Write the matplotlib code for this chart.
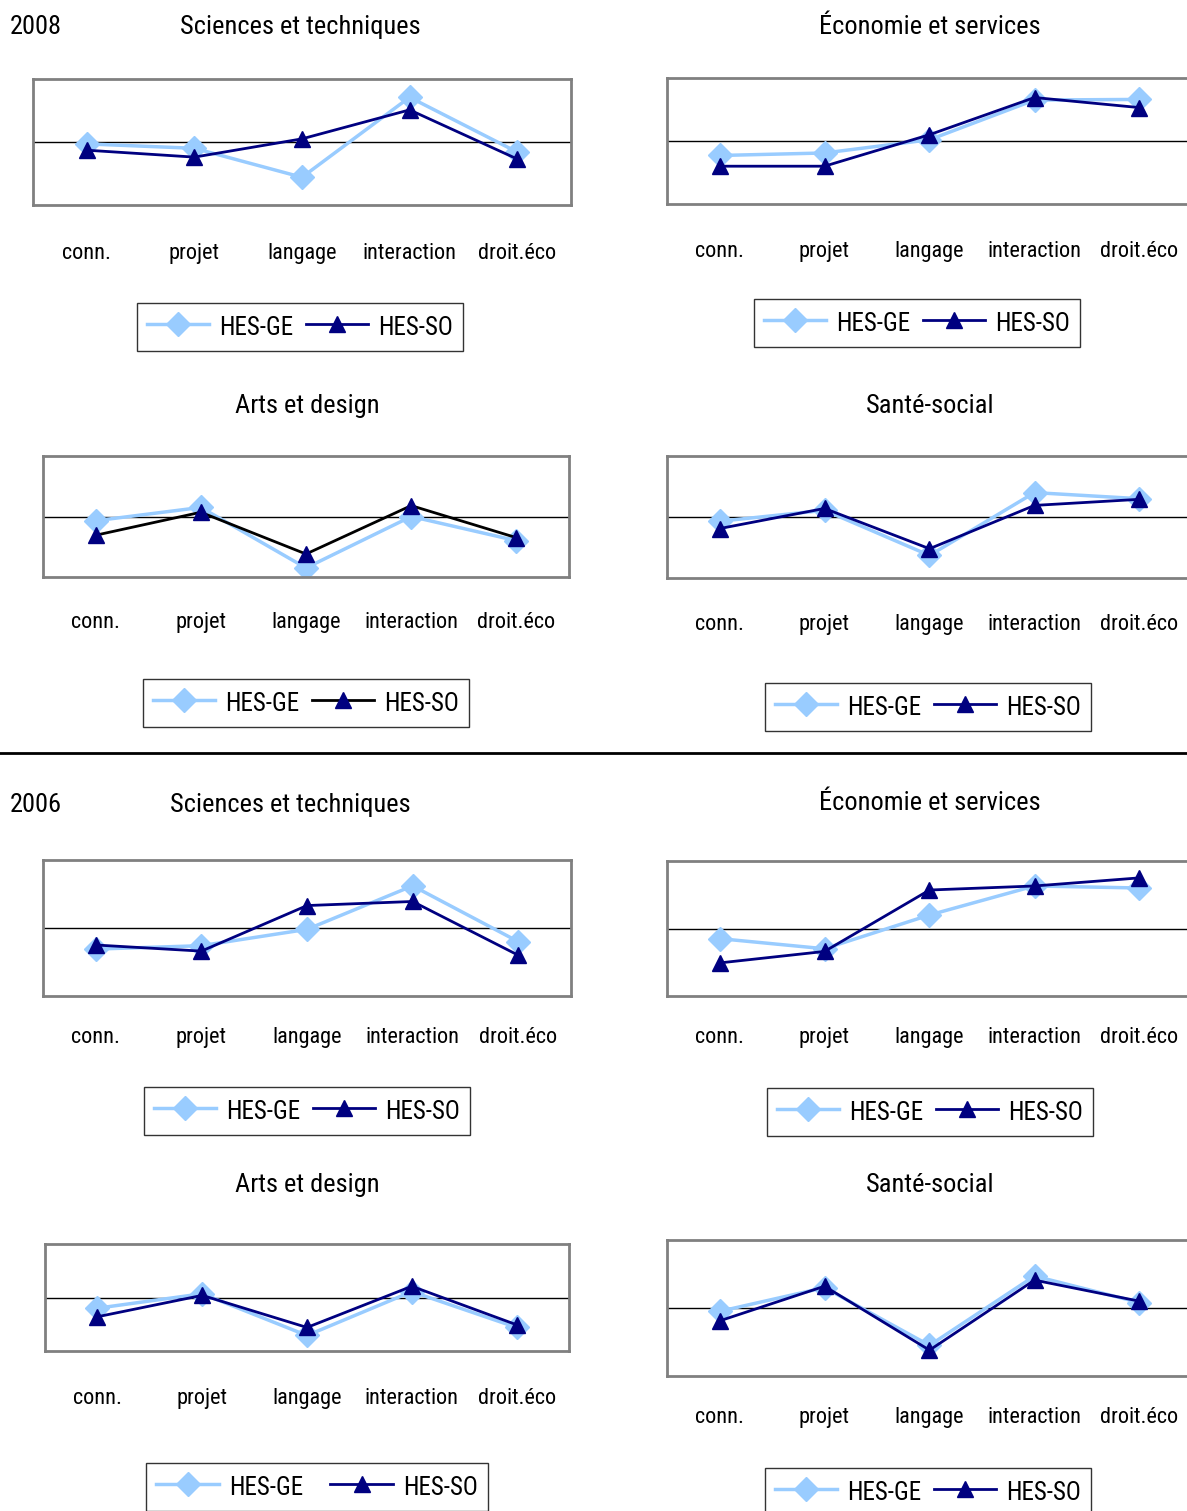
import numpy as np
import matplotlib.pyplot as plt
from matplotlib.lines import Line2D

plt.rcParams['font.family'] = ['Liberation Sans Narrow', 'Roboto Condensed', 'DejaVu Sans', 'Liberation Sans']
plt.rcParams['font.stretch'] = 'condensed'

categories = ['conn.', 'projet', 'langage', 'interaction', 'droit.éco']
series_names = ['HES-GE', 'HES-SO']

# valeurs relatives (0 = ligne de référence)
ge_2008_sciences = [-0.03, -0.10, -0.56, 0.71, -0.16]
so_2008_sciences = [-0.13, -0.24, 0.05, 0.51, -0.27]
ge_2008_economie = [-0.23, -0.19, 0.02, 0.65, 0.66]
so_2008_economie = [-0.40, -0.40, 0.10, 0.69, 0.53]
ge_2008_arts = [-0.07, 0.15, -0.85, 0.00, -0.40]
so_2008_arts = [-0.31, 0.07, -0.62, 0.18, -0.35]
ge_2008_sante = [-0.07, 0.11, -0.63, 0.40, 0.30]
so_2008_sante = [-0.19, 0.14, -0.52, 0.19, 0.29]

ge_2006_sciences = [-0.31, -0.26, -0.02, 0.62, -0.20]
so_2006_sciences = [-0.25, -0.34, 0.33, 0.39, -0.40]
ge_2006_economie = [-0.15, -0.30, 0.20, 0.63, 0.60]
so_2006_economie = [-0.51, -0.34, 0.57, 0.63, 0.75]
ge_2006_arts = [-0.20, 0.07, -0.71, 0.11, -0.56]
so_2006_arts = [-0.36, 0.04, -0.56, 0.21, -0.51]
ge_2006_sante = [-0.05, 0.30, -0.55, 0.47, 0.08]
so_2006_sante = [-0.19, 0.32, -0.62, 0.41, 0.10]

GE_COL = '#99CCFF'
SO_COL = '#000080'

W, H = 1187, 1511
fig = plt.figure(figsize=(W / 100, H / 100), dpi=100)


def fx(x):
    return x / W


def fy(y):
    return 1 - y / H


# titre, ge, so, boite (x0, y0, x1, y1), centre titre, y etiquettes, centre legende,
# couleur ligne SO, espacement des colonnes de la legende
panels = [
    ('Sciences et techniques', ge_2008_sciences, so_2008_sciences, (33, 79, 571, 205), (300, 27), 251, (300, 327), SO_COL, 0.5),
    ('Économie et services', ge_2008_economie, so_2008_economie, (667, 78, 1192, 204), (930, 27), 249, (917, 323), SO_COL, 0.5),
    ('Arts et design', ge_2008_arts, so_2008_arts, (43, 456, 569, 577), (307, 406), 620, (306, 703), 'black', 0.5),
    ('Santé-social', ge_2008_sante, so_2008_sante, (667, 456, 1192, 578), (930, 406), 622, (928, 707), SO_COL, 0.5),
    ('Sciences et techniques', ge_2006_sciences, so_2006_sciences, (43, 860, 571, 996), (290, 805), 1035, (307, 1111), SO_COL, 0.5),
    ('Économie et services', ge_2006_economie, so_2006_economie, (667, 861, 1192, 996), (930, 803), 1035, (930, 1112), SO_COL, 0.5),
    ('Arts et design', ge_2006_arts, so_2006_arts, (45, 1244, 569, 1351), (307, 1185), 1396, (317, 1487), SO_COL, 1.1),
    ('Santé-social', ge_2006_sante, so_2006_sante, (667, 1240, 1192, 1376), (930, 1185), 1415, (928, 1492), SO_COL, 0.5),
]

x = np.arange(len(categories))
for title, ge, so, box, tpos, label_y, lpos, so_line, colsp in panels:
    x0, y0, x1, y1 = box
    ax = fig.add_axes([fx(x0), fy(y1), (x1 - x0) / W, (y1 - y0) / H])
    ax.axhline(0, color='black', lw=1)
    l1, = ax.plot(x, ge, color=GE_COL, lw=2.5, marker='D', ms=12,
                  mfc=GE_COL, mec=GE_COL, label=series_names[0])
    l2, = ax.plot(x, so, color=so_line, lw=2, marker='^', ms=11,
                  mfc=SO_COL, mec=SO_COL, label=series_names[1])
    ax.set_xlim(-0.5, len(categories) - 0.5)
    ax.set_ylim(-1, 1)
    ax.set_yticks([])
    ax.set_xticks(x, categories)
    pad_px = label_y - y1 - 8
    ax.tick_params(axis='x', length=0, pad=pad_px * 0.72, labelsize=16)
    for s in ax.spines.values():
        s.set_color('#808080')
        s.set_linewidth(2)
    fig.text(fx(tpos[0]), fy(tpos[1]), title, ha='center', va='center', fontsize=19)
    leg = fig.legend(handles=[l1, l2], loc='center', bbox_to_anchor=(fx(lpos[0]), fy(lpos[1])),
                     ncol=2, frameon=True, fancybox=False, fontsize=18,
                     handlelength=2.5, handleheight=1.3, handletextpad=0.4,
                     columnspacing=colsp, borderpad=0.4, borderaxespad=0)
    leg.get_frame().set_edgecolor('black')
    leg.get_frame().set_linewidth(1)

fig.text(fx(10), fy(27), '2008', ha='left', va='center', fontsize=19)
fig.text(fx(10), fy(805), '2006', ha='left', va='center', fontsize=19)
fig.add_artist(Line2D([0, 1], [fy(753), fy(753)], color='black', lw=2))

fig.savefig('out.png', dpi=100)
